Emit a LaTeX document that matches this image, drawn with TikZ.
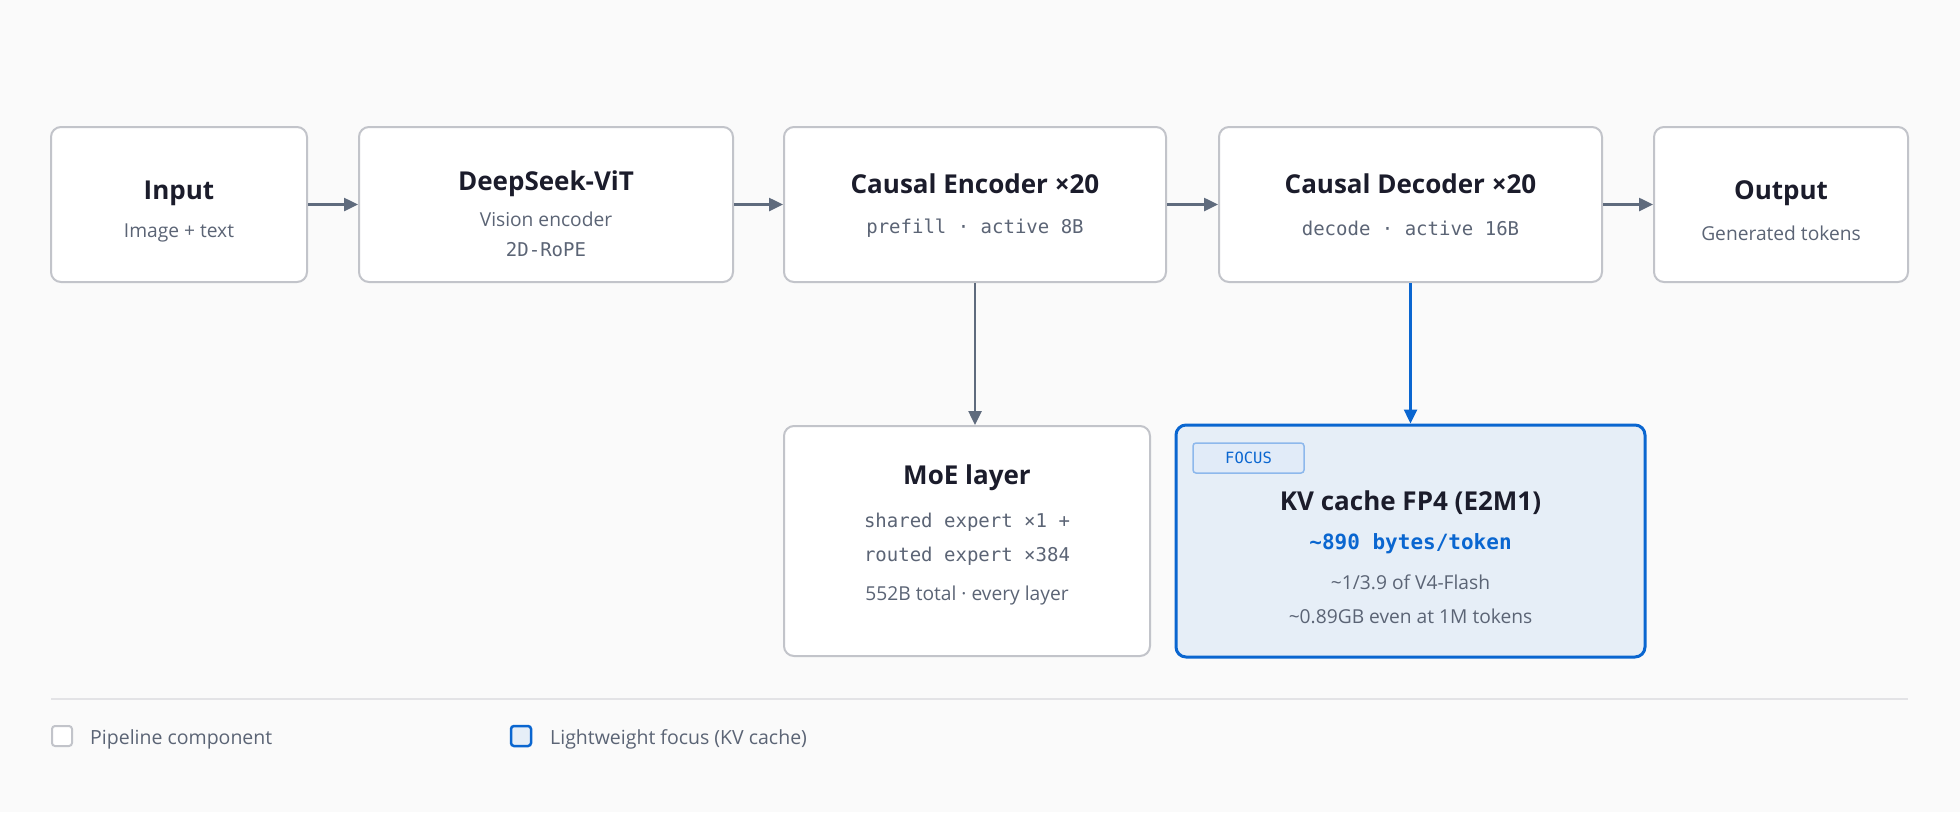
\documentclass[tikz,border=0pt]{standalone}
\usepackage{fontspec}
\setmainfont{Open Sans}
\newfontfamily\monof{DejaVu Sans Mono}
\usetikzlibrary{arrows.meta}
\definecolor{bgc}{HTML}{FAFAFA}
\definecolor{boxborder}{HTML}{C2C4CA}
\definecolor{titlec}{HTML}{1B1C2B}
\definecolor{subc}{HTML}{5B6475}
\definecolor{arrowc}{HTML}{5F6B7D}
\definecolor{bluec}{HTML}{0A66D0}
\definecolor{kvfill}{HTML}{E6EEF7}
\definecolor{badgefill}{HTML}{E1EBF8}
\definecolor{badgeborder}{HTML}{8DB8EC}
\definecolor{sepc}{HTML}{E3E3E6}
\tikzset{
  box/.style={draw=boxborder, line width=2pt, fill=white, rounded corners=10pt, inner sep=0pt},
  focusbox/.style={draw=bluec, line width=3pt, fill=kvfill, rounded corners=10pt, inner sep=0pt},
  ttl/.style={font=\fontsize{26}{30}\selectfont\bfseries, text=titlec, inner sep=0pt},
  sub/.style={font=\fontsize{19.2}{22}\selectfont, text=subc, inner sep=0pt},
  mono/.style={font=\monof\fontsize{19}{22}\selectfont, text=subc, inner sep=0pt},
  arr/.style={draw=arrowc, line width=2.5pt, -{Triangle[length=14pt,width=13pt]}},
  bluearr/.style={draw=bluec, line width=2.5pt, -{Triangle[length=14pt,width=13pt]}},
  legtxt/.style={font=\fontsize{19.5}{22}\selectfont, text=subc, inner sep=0pt, anchor=west},
}
\begin{document}
\begin{tikzpicture}[x=1pt,y=-1pt]
\fill[bgc] (0,0) rectangle (1960,812);
\useasboundingbox (0,0) rectangle (1960,812);

% top row boxes
\node[box, minimum width=256pt, minimum height=155pt] (in) at (179,204.5) {};
\node[box, minimum width=374pt, minimum height=155pt] (vit) at (546,204.5) {};
\node[box, minimum width=382pt, minimum height=155pt] (enc) at (975,204.5) {};
\node[box, minimum width=383pt, minimum height=155pt] (dec) at (1410.5,204.5) {};
\node[box, minimum width=254pt, minimum height=155pt] (out) at (1781,204.5) {};

% bottom row boxes
\node[box, minimum width=366pt, minimum height=230pt] (moe) at (967,541) {};
\node[focusbox, minimum width=469pt, minimum height=232pt] (kv) at (1410.5,541) {};

% texts top row
\node[ttl] (inT) at (179,193) {Input};
\node[sub] (inS) at (179,233) {Image + text};
\node[ttl] (vitT) at (546,184) {DeepSeek-ViT};
\node[sub] (vitS) at (546,219.5) {Vision encoder};
\node[mono] (vitS2) at (546,250) {2D-RoPE};
\node[ttl] (encT) at (975,184) {Causal Encoder ×20};
\node[mono] (encS) at (975,228.5) {prefill · active 8B};
\node[ttl] (decT) at (1410.5,184) {Causal Decoder ×20};
\node[mono] (decS) at (1410.5,228.5) {decode · active 16B};
\node[ttl] (outT) at (1781,193) {Output};
\node[sub] (outS) at (1781,233) {Generated tokens};

% MoE texts
\node[ttl] (moeT) at (967,478) {MoE layer};
\node[mono] (moeS1) at (967,522) {shared expert ×1 +};
\node[mono] (moeS2) at (967,556) {routed expert ×384};
\node[sub] (moeS3) at (967,595.5) {552B total · every layer};

% KV texts
\node[draw=badgeborder, line width=1.5pt, fill=badgefill, rounded corners=3pt,
      minimum width=111pt, minimum height=30pt, inner sep=0pt,
      font=\monof\fontsize{15.5}{17}\selectfont, text=bluec] (badge) at (1248.5,458) {FOCUS};
\node[ttl] (kvT) at (1410.5,502.5) {KV cache FP4 (E2M1)};
\node[font=\monof\bfseries\fontsize{21}{24}\selectfont, text=bluec, inner sep=0pt] (kvB) at (1410.5,543.5) {\textasciitilde 890 bytes/token};
\node[sub] (kvS1) at (1410.5,582) {\textasciitilde 1/3.9 of V4-Flash};
\node[sub] (kvS2) at (1410.5,616.5) {\textasciitilde 0.89GB even at 1M tokens};

% arrows
\draw[arr] (in.east) -- (vit.west);
\draw[arr] (vit.east) -- (enc.west);
\draw[arr] (enc.east) -- (dec.west);
\draw[arr] (dec.east) -- (out.west);
\draw[arr] (enc.south) -- (enc.south |- moe.north);
\draw[bluearr] (dec.south) -- (dec.south |- kv.north);

% separator and legend
\coordinate (sepL) at (51,699);
\coordinate (sepR) at (1908,699);
\draw[sepc, line width=1.5pt] (sepL) -- (sepR);
\node[draw=boxborder, line width=2pt, fill=white, rounded corners=3pt, minimum size=20pt, inner sep=0pt] (leg1) at (62,736) {};
\node[legtxt] (leg1t) at (90,739) {Pipeline component};
\node[draw=bluec, line width=2.5pt, fill=kvfill, rounded corners=3pt, minimum size=20pt, inner sep=0pt] (leg2) at (521,736) {};
\node[legtxt] (leg2t) at (550,739) {Lightweight focus (KV cache)};
\end{tikzpicture}
\end{document}
